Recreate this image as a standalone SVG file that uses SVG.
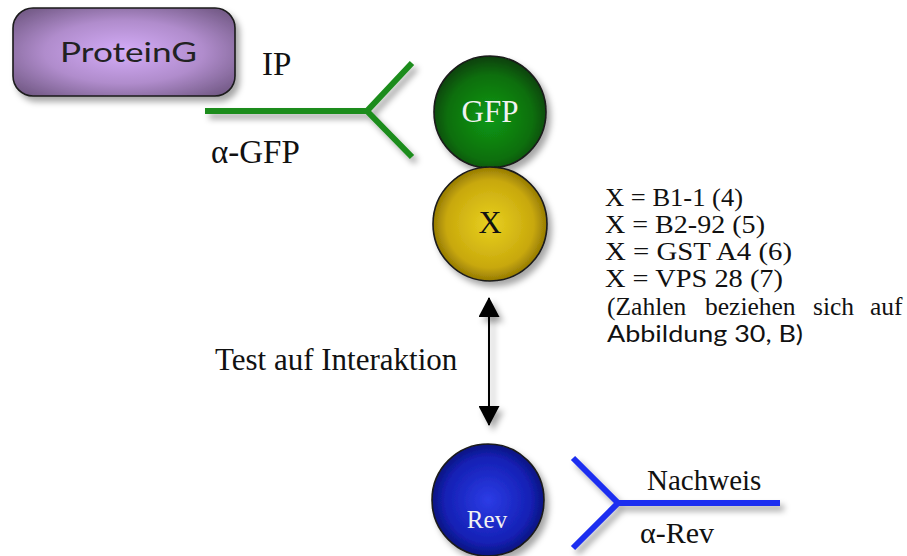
<svg xmlns="http://www.w3.org/2000/svg" width="907" height="556" viewBox="0 0 907 556">
<defs>
<filter id="sh" filterUnits="userSpaceOnUse" x="0" y="0" width="907" height="556">
<feDropShadow dx="4" dy="5" stdDeviation="3" flood-color="#000" flood-opacity="0.35"/>
</filter>
<radialGradient id="gPurple" cx="50%" cy="50%" r="65%">
<stop offset="0" stop-color="#d4acf8"/><stop offset="0.55" stop-color="#b08ccc"/><stop offset="1" stop-color="#735a86"/>
</radialGradient>
<radialGradient id="gGreen" cx="50%" cy="55%" r="55%">
<stop offset="0" stop-color="#0c9a14"/><stop offset="0.7" stop-color="#0a6e0e"/><stop offset="1" stop-color="#073f08"/>
</radialGradient>
<radialGradient id="gYellow" cx="50%" cy="50%" r="55%">
<stop offset="0" stop-color="#e8d020"/><stop offset="0.7" stop-color="#c8a80c"/><stop offset="1" stop-color="#7e6600"/>
</radialGradient>
<radialGradient id="gBlue" cx="50%" cy="50%" r="55%">
<stop offset="0" stop-color="#2c3ce6"/><stop offset="0.7" stop-color="#1420b4"/><stop offset="1" stop-color="#08106a"/>
</radialGradient>
<marker id="ah" viewBox="0 0 20 21" refX="19" refY="10.5" markerWidth="20" markerHeight="21" markerUnits="userSpaceOnUse" orient="auto">
<path d="M0,0 L20,10.5 L0,21 Z" fill="#000"/>
</marker>
<style>
.serif{font-family:"Liberation Serif","Times New Roman",serif;fill:#111}
.sans{font-family:Lato,"Open Sans","Liberation Sans",sans-serif;fill:#111}
.node{stroke:#1a1a1a;stroke-width:1.6;filter:url(#sh)}
.ab{fill:none;stroke-width:6;stroke-linecap:butt;stroke-linejoin:miter;filter:url(#sh)}
</style>
</defs>
<rect width="907" height="556" fill="#fff"/>

<g id="proteinG">
<rect class="node" x="13" y="8" width="222" height="88" rx="20" fill="url(#gPurple)" stroke-width="2"/>
<text class="sans" x="60" y="62" font-size="27" textLength="137" lengthAdjust="spacingAndGlyphs" style="fill:#222">ProteinG</text>
</g>

<g id="antiGFP">
<path class="ab" d="M205,111 H367 M412,63 L367,111 L412,157" stroke="#1c8c1c"/>
</g>

<g id="labels-ip">
<text class="serif" x="262" y="75" font-size="33">IP</text>
<text class="serif" x="211" y="163" font-size="33">α-GFP</text>
</g>

<g id="GFP">
<circle class="node" cx="490" cy="112" r="56" fill="url(#gGreen)"/>
<text class="serif" x="490" y="122" font-size="31" text-anchor="middle" style="fill:#f2f2f2">GFP</text>
</g>

<g id="X">
<circle class="node" cx="490" cy="224" r="57" fill="url(#gYellow)"/>
<text class="serif" x="490" y="233" font-size="32" text-anchor="middle">X</text>
</g>

<g id="Rev">
<circle class="node" cx="488" cy="500" r="56" fill="url(#gBlue)"/>
<text class="serif" x="487" y="528" font-size="25" text-anchor="middle" style="fill:#f2f2f2">Rev</text>
</g>

<g id="antiRev">
<path class="ab" d="M618,503 H780 M573,458 L618,503 L573,548" stroke="#1a2ef0"/>
</g>

<g id="connectors">
<line x1="489" y1="312" x2="489" y2="298" stroke="#000" stroke-width="2" marker-end="url(#ah)" filter="url(#sh)"/>
<line x1="489" y1="310" x2="489" y2="425" stroke="#000" stroke-width="2" marker-end="url(#ah)" filter="url(#sh)"/>
</g>

<g id="texts">
<text class="serif" x="215" y="370" font-size="31">Test auf Interaktion</text>
<text class="serif" x="647" y="490" font-size="29">Nachweis</text>
<text class="serif" x="640" y="543" font-size="30">α-Rev</text>
<text class="serif" x="605" y="206" font-size="25" textLength="138" lengthAdjust="spacingAndGlyphs">X = B1-1 (4)</text>
<text class="serif" x="605" y="233" font-size="25" textLength="160" lengthAdjust="spacingAndGlyphs">X = B2-92 (5)</text>
<text class="serif" x="605" y="260" font-size="25" textLength="187" lengthAdjust="spacingAndGlyphs">X = GST A4 (6)</text>
<text class="serif" x="605" y="287" font-size="25" textLength="178" lengthAdjust="spacingAndGlyphs">X = VPS 28 (7)</text>
<text class="serif" y="315" font-size="25.5"><tspan x="607">(Zahlen</tspan><tspan x="705">beziehen</tspan><tspan x="813">sich</tspan><tspan x="870">auf</tspan></text>
<text class="sans" x="607" y="342" font-size="24" textLength="196" lengthAdjust="spacingAndGlyphs">Abbildung 30, B)</text>
</g>
</svg>
